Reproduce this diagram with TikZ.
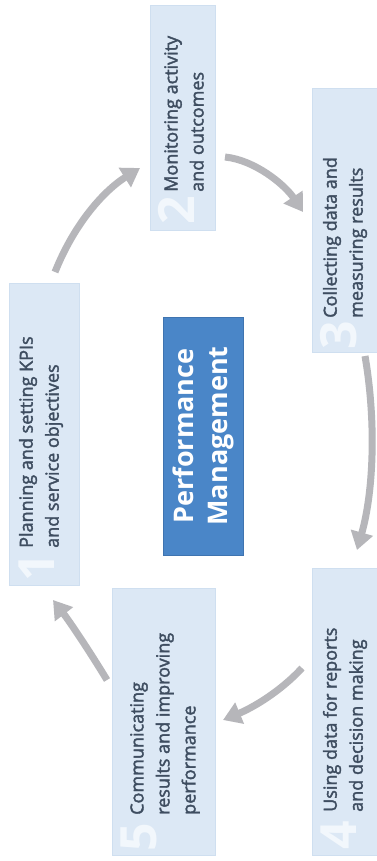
\documentclass[tikz,border=0pt]{standalone}
\usepackage{fontspec}
\setmainfont{Open Sans}
\newfontfamily\stepfont{Open Sans}[FakeBold=2]
\usetikzlibrary{arrows.meta}
\definecolor{boxfill}{HTML}{DCE8F5}
\definecolor{boxedge}{HTML}{CFDFF0}
\definecolor{textcol}{HTML}{3E4D60}
\definecolor{numcol}{HTML}{F2F7FC}
\definecolor{corefill}{HTML}{4A86C8}
\definecolor{coreedge}{HTML}{3F74B0}
\definecolor{arrowcol}{HTML}{B6B6BA}
\begin{document}
\begin{tikzpicture}[x=1pt,y=-1pt,
  stepbox/.style={rectangle, rotate=90, fill=boxfill, draw=boxedge, line width=0.6pt, inner sep=0pt},
  steptext/.style={rotate=90, anchor=west, inner sep=0pt, align=left, text=textcol,
    font=\stepfont\fontsize{18}{26}\selectfont},
  stepnum/.style={rotate=90, anchor=west, inner sep=0pt, text=numcol,
    font=\fontsize{50}{50}\selectfont\bfseries},
  core/.style={rectangle, rotate=90, fill=corefill, draw=coreedge, line width=0.8pt,
    inner sep=0pt, align=center, text=white, font=\fontsize{27}{34}\selectfont\bfseries},
  flow/.style={draw=arrowcol, line width=7pt, -{Triangle[width=22pt,length=18pt]}}
]
\useasboundingbox (0,0) rectangle (377,861);
\fill[white] (0,0) rectangle (377,861);

% step boxes (minimum width = length along the page, minimum height = thickness)
\node[stepbox, minimum width=302pt, minimum height=70pt] (b1) at (44,434) {};
\node[stepbox, minimum width=225pt, minimum height=65pt] (b2) at (182.5,117.5) {};
\node[stepbox, minimum width=264pt, minimum height=65pt] (b3) at (344.5,220) {};
\node[stepbox, minimum width=287pt, minimum height=65pt] (b4) at (344.5,711.5) {};
\node[stepbox, minimum width=267pt, minimum height=103pt] (b5) at (163.5,721.5) {};

% step numbers
\node[stepnum] (n1) at (37,582) {1};
\node[stepnum] (n2) at (176,225) {2};
\node[stepnum] (n3) at (339,350) {3};
\node[stepnum] (n4) at (339,850) {4};
\node[stepnum] (n5) at (139,852) {5};

% step labels
\node[steptext] (t1) at (41,548) {Planning and setting KPIs\\and service objectives};
\node[steptext] (t2) at (184,192) {Monitoring activity\\and outcomes};
\node[steptext] (t3) at (345,318) {Collecting data and\\measuring results};
\node[steptext] (t4) at (345,812) {Using data for reports\\and decision making};
\node[steptext] (t5) at (165,815) {Communicating\\results and improving\\performance};

% centre
\node[core, minimum width=238pt, minimum height=80pt] (pm) at (203,436) {Performance\\Management};

% arrow end points
\coordinate (a1s) at (55,272);  \coordinate (a1e) at (140,168);
\coordinate (a2s) at (225,157); \coordinate (a2e) at (303,212);
\coordinate (a3s) at (365,356); \coordinate (a3e) at (357,550);
\coordinate (a4s) at (302,668); \coordinate (a4e) at (223,720);
\coordinate (a5s) at (107,680); \coordinate (a5e) at (53,600);

\draw[flow] (a1s) .. controls (75,222) and (105,190) .. (a1e);
\draw[flow] (a2s) .. controls (255,160) and (285,185) .. (a2e);
\draw[flow] (a3s) .. controls (376,420) and (374,490) .. (a3e);
\draw[flow] (a4s) .. controls (280,692) and (252,708) .. (a4e);
\draw[flow] (a5s) .. controls (90,652) and (70,622) .. (a5e);
\end{tikzpicture}
\end{document}
